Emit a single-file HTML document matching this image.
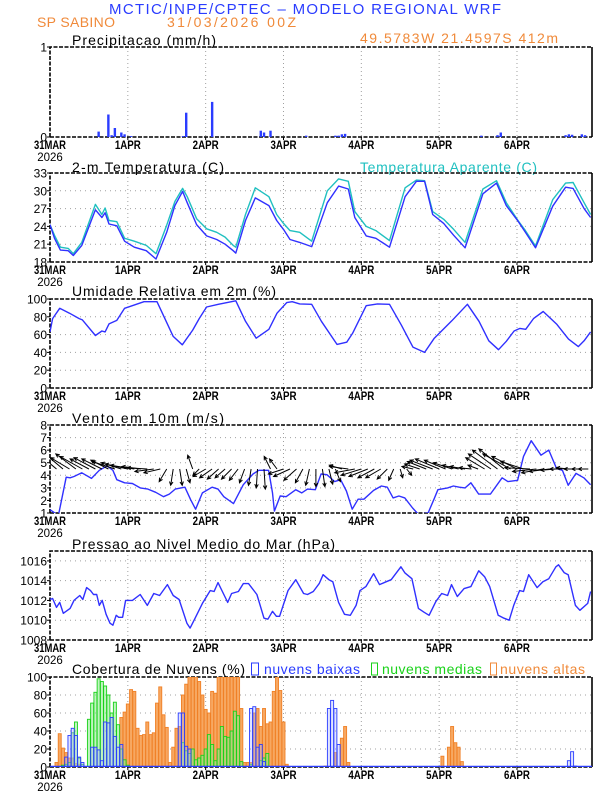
<!DOCTYPE html>
<html><head><meta charset="utf-8"><style>
html,body{margin:0;padding:0;background:#fff;}
svg{display:block;font-family:"Liberation Sans",sans-serif;}
</style></head><body>
<svg id="chart" xmlns="http://www.w3.org/2000/svg" width="612" height="792" viewBox="0 0 612 792">
<rect x="0" y="0" width="612" height="792" fill="#fff"/>
<text x="305" y="14" text-anchor="middle" font-size="15" fill="#2a3cff" textLength="392">MCTIC/INPE/CPTEC – MODELO REGIONAL WRF</text>
<text x="37" y="27" font-size="14" fill="#f08a3a" textLength="78">SP SABINO</text>
<text x="167" y="27" font-size="14" fill="#f08a3a" textLength="129">31/03/2026 00Z</text>
<text x="360" y="43" font-size="14" fill="#f08a3a" textLength="198">49.5783W 21.4597S 412m</text>
<text x="72" y="45" font-size="14" fill="#000" textLength="144">Precipitacao (mm/h)</text>
<text x="72" y="172" font-size="14" fill="#000" textLength="152">2-m Temperatura (C)</text>
<text x="360" y="172" font-size="14" fill="#20c0c0" textLength="177">Temperatura Aparente (C)</text>
<text x="72" y="296" font-size="14" fill="#000" textLength="204">Umidade Relativa em 2m (%)</text>
<text x="72" y="423" font-size="14" fill="#000" textLength="152">Vento em 10m (m/s)</text>
<text x="72" y="549" font-size="14" fill="#000" textLength="263">Pressao ao Nivel Medio do Mar (hPa)</text>
<text x="72" y="674" font-size="14" fill="#000" textLength="173">Cobertura de Nuvens (%)</text>
<rect x="251.5" y="663" width="7" height="12" fill="none" stroke="#2a3cff"/>
<text x="264" y="674" font-size="14" fill="#2a3cff" textLength="96">nuvens baixas</text>
<rect x="371.5" y="663" width="6" height="12" fill="none" stroke="#19d219"/>
<text x="382" y="674" font-size="14" fill="#19d219" textLength="100">nuvens medias</text>
<rect x="490.5" y="663" width="6" height="12" fill="none" stroke="#f08a3a"/>
<text x="500" y="674" font-size="14" fill="#f08a3a" textLength="85">nuvens altas</text>
<g id="plots"></g>
</svg>
<script>
// ---------- data ----------
const dayLabels = ["1APR","2APR","3APR","4APR","5APR","6APR"];
const precipHours = [15,18,19,20,22,23,25,41,42,50,65,66,68,79,88,89,90,91,133,138,139,159,160,161,164,165];
const precipValues = [0.06,0.25,0.02,0.10,0.05,0.03,0.01,0.01,0.27,0.39,0.07,0.05,0.07,0.015,0.015,0.015,0.03,0.035,0.015,0.02,0.05,0.02,0.03,0.025,0.03,0.02];

const tempHours = [0,1.4,3.2,5.6,7.2,9.8,14,16,17,18.2,20.6,23,26,29.7,32.7,36,38.5,40.9,42.3,45.2,48.3,51.4,54,56.5,57.3,60.3,63.3,67.5,69.9,72,74,77,80.7,85.5,89,92,94,97.5,100.5,104.7,109.5,113,115.5,118,121.4,124.5,128,133.5,137.7,140.7,144.3,146.6,149.7,155,159,161.3,164.7,166.7];
const tempValues = [24.3,22,20.0,19.9,19.1,20.8,26.8,25.5,26.3,24.4,24.1,21.5,20.5,19.9,18.5,23.0,27.5,29.9,28.0,24.3,22.4,21.8,21.0,19.9,19.5,25.0,28.8,27.5,25.0,23.5,21.8,21.3,20.6,28.0,30.8,30.3,25.5,22.4,22.0,20.5,29.0,31.6,31.6,26.0,24.5,22.5,20.4,29.5,31.3,27.5,24.9,23.0,20.4,27.4,30.6,30.4,27.0,25.5];
const apparentValues = [24.3,22.5,20.5,20.3,19.4,21.3,27.7,26.0,27.1,25.0,24.8,22.0,21.5,20.8,19.4,24.2,28.2,30.4,29.0,25.3,23.6,23.0,22.2,20.8,20.5,26.0,30.5,29.0,26.0,24.5,23.3,23.0,21.5,30.0,32.0,31.6,26.5,24.0,23.3,21.6,30.5,31.8,31.7,26.5,25.2,23.5,21.3,30.3,31.7,28.0,25.0,23.3,20.7,28.5,31.3,31.4,28.0,26.0];

const humHours = [0,0.8,3,6,9,10,14,16,17,18.2,20.6,23,26.6,29,33,38,40.8,44,46,48.3,51.9,57.3,60.3,63.6,67.5,70,73,74.7,77,80.7,83.7,88.5,91.5,93.3,97.5,101,104.7,108.3,111.9,115.5,118.5,123.9,128.7,132.3,135.3,138.3,140.7,143.1,144.9,146.7,149.1,152.1,156.3,159.9,162.9,164.7,166.7];
const humValues = [63,78,89.5,84,78,76.5,59,64,63,72,76,89.5,94,97,97,58,48.5,65,78,91,94,98,75,56,66,84,96,97,94.5,94,75,49,51.5,61.5,92.5,94.5,94,71,46,40,56,75.5,94,75,53,43,52.5,64,67,66,78,86,71.5,55,46.5,53,63];

const windHours = [0,2.6,5,6.2,7.4,9.8,12.8,15.2,17.6,19.4,20.6,23,25.4,27.8,30.2,32.6,35,36.8,38.6,41.6,43.4,44.9,47,50,51.8,53.6,56.6,59.6,62.6,64.4,67.4,68.6,69.2,71,72.8,75.8,77.6,79.4,81.8,83.6,85.4,87.8,89.6,91.4,93.2,95,96.8,99.8,102.2,104,105.8,107.6,109.4,111.8,113.6,116.6,118.4,119.6,122.6,124.4,126.2,128,129.8,132.2,135.8,139.4,141.2,144.2,146,148.4,151.4,153.8,156.2,158,159.8,162.2,164.6,166.7];
const windSpeed = [1.26,0.8,3.85,3.8,3.9,4.2,3.75,4.4,4.75,4.4,3.65,3.4,3.35,3.0,2.9,2.65,2.3,2.5,2.9,3.05,2.05,1.3,2.6,3.05,2.9,2.3,1.75,3.25,4.1,4.4,4.4,2.6,1.15,2.35,2.3,2.85,2.6,2.9,2.85,4.1,4.05,3.5,3.65,2.75,1.3,2.1,2.1,2.8,3.15,3.05,2.2,2.35,2.2,1.4,0.9,1.0,2.1,2.85,3.0,3.15,3.05,3.0,3.4,2.5,2.5,3.8,3.5,3.6,5.5,6.75,5.6,6.0,4.55,4.4,3.2,4.15,3.8,3.25];
const vectorHours = [0,2,4,6,8,10,12,14,16,18,20,22,24,26,28,30,32,34,36,38,40,42,44,46,48,50,52,54,56,58,60,62,64,66,68,70,72,74,76,78,80,82,84,86,88,90,92,94,96,98,100,102,104,106,108,110,112,114,116,118,120,122,124,126,128,130,132,134,136,138,140,142,144,146,148,150,152,154,156,158,160,162,164,166];
const windU = [-1.0,-1.2,-1.3,-1.5,-1.6,-1.8,-1.5,-1.7,-1.6,-1.4,-1.8,-1.6,-1.8,-1.9,-1.5,-1.6,-1.5,-1.3,-0.6,-0.2,0.2,0.3,-0.4,-0.5,-1.0,-1.0,-0.9,-0.8,-0.8,-0.7,-0.4,-0.2,-0.1,0.1,-0.5,-0.6,-1.2,-1.3,-1.0,-0.6,-0.3,0.0,0.2,0.3,0.4,-1.0,-1.5,-1.6,-1.6,-1.5,-1.3,-1.2,-0.8,-0.4,0.2,0.4,-0.9,-1.2,-1.5,-1.8,-1.9,-1.7,-1.5,-1.3,-1.2,-1.0,-0.8,-1.5,-1.8,-2.0,-2.0,-2.2,-2.0,-1.8,-2.0,-1.9,-1.7,-1.6,-1.2,-1.0,-1.0,-0.9,-0.8,-0.8];
const windV = [1.2,1.0,1.1,0.9,1.2,1.0,0.8,0.9,0.8,0.7,0.6,0.5,0.4,0.3,0.2,0.1,-0.2,-0.3,-1.0,-1.3,-1.3,-1.1,1.1,-0.5,-0.6,-0.7,-0.8,-0.7,-0.8,-0.9,-1.1,-1.3,-1.5,-1.6,1.0,0.8,-0.4,-0.6,-0.9,-1.1,-1.3,-1.4,-1.4,-1.2,-1.0,0.3,0.2,-0.3,-0.5,-0.6,-0.7,-0.7,-0.8,-0.9,-0.7,-0.5,0.2,0.4,0.6,0.7,0.8,0.7,0.5,0.3,0.2,0.1,0.3,0.9,1.2,1.5,1.6,1.2,1.0,0.6,0.1,-0.2,-0.3,-0.2,-0.1,0.0,0.1,0.0,0.0,0.0];

const presHours = [0,0.8,2,3,4.1,6.2,7.4,9.2,10.1,11.3,12.5,13.4,14.4,15.2,16.1,17.3,18.5,19.4,20.4,21.2,22.4,23.3,25.4,27.8,30,32,33.8,36.2,38,39.8,42.2,43.2,44.6,47,49.4,50.6,51.8,54.2,54.8,56,58.1,59.6,61.2,63.8,66,67.2,68.6,69.8,70.8,73.4,75.8,78.2,79.4,81.2,83,84.2,86,87.2,89,90.8,92.6,94.4,95.6,97.4,99.8,101.6,103.7,105.2,108.2,109.4,111.6,113.6,115.4,116.9,119,120.8,122.6,123.8,125.6,127.7,129.8,132.2,134,135.6,138.2,140,141.6,143,144.8,146,147.6,150.2,152,153.8,156,156.8,158.6,159.8,162,163.4,165.8,166.7];
const presValues = [1012.1,1012.2,1011.3,1011.8,1010.7,1011.2,1012.0,1012.5,1012.1,1013.3,1013.0,1012.6,1012.6,1011.5,1012.0,1010.6,1009.7,1009.5,1010.5,1010.3,1010.3,1012.0,1012.0,1012.6,1011.5,1012.7,1012.5,1013.6,1012.5,1012.1,1009.7,1009.2,1010.1,1011.7,1013.0,1012.9,1013.8,1012.2,1011.8,1012.7,1012.9,1013.7,1013.7,1012.6,1010.2,1010.1,1010.9,1010.4,1010.4,1013.0,1014.1,1012.7,1012.6,1012.9,1013.7,1014.6,1014.1,1013.9,1011.8,1010.6,1010.5,1011.5,1013.0,1013.4,1014.7,1013.6,1013.9,1014.1,1015.4,1014.8,1014.2,1011.2,1010.8,1010.5,1011.9,1012.7,1012.5,1013.6,1012.4,1013.2,1013.4,1015.0,1014.4,1013.4,1010.5,1010.2,1010.0,1011.5,1013.0,1012.9,1014.6,1013.3,1013.9,1014.2,1015.4,1015.6,1014.8,1014.6,1011.5,1011.0,1011.7,1012.9];

const highHours = [2,3,4,5,6,7,8,9,22,23,24,25,26,27,28,29,30,31,32,33,34,35,36,37,38,39,40,41,42,43,44,45,46,47,48,49,50,51,52,53,54,55,56,57,58,59,60,61,62,63,64,65,66,67,68,69,70,71,72,73,85,88,90,91,92,121,123,124,125,126,127];
const highValues = [5,37,21,16,10,10,4,3,55,61,70,86,84,43,35,36,50,36,38,71,89,58,44,5,22,43,45,80,92,100,100,100,95,80,64,60,84,82,100,100,100,100,100,100,100,65,5,5,5,60,65,45,65,48,50,84,100,85,50,3,1,16,32,45,5,12,22,45,27,22,6];
const midHours = [4,5,6,7,8,9,10,12,13,14,15,16,17,18,19,20,21,22,23,24,41,42,43,44,45,46,47,48,49,50,51,52,53,54,55,56,57,58,59,62,65,66,67];
const midValues = [2,3,5,38,50,10,3,53,71,83,98,95,90,80,60,72,47,20,8,2,27,18,15,20,8,10,13,20,36,25,7,20,45,34,33,40,62,57,6,3,7,10,15];
const lowHours = [5,6,7,8,9,10,13,14,15,16,17,18,19,20,21,22,40,41,42,43,62,63,64,65,66,86,87,88,89,160,161,162];
const lowValues = [11,35,43,35,11,5,22,22,19,7,50,49,55,34,22,25,60,60,23,20,65,67,22,25,6,65,74,65,25,7,17,1];

// ---------- layout ----------
const NS = "http://www.w3.org/2000/svg";
const X0 = 50, DAYPX = 77.83;
function xh(h){ return X0 + h*DAYPX/24; }
const X1 = 592;
function mk(parent, tag, attrs){ const e=document.createElementNS(NS,tag); for(const k in attrs) e.setAttribute(k, attrs[k]); parent.appendChild(e); return e; }
const root = document.getElementById('plots');

const panels = {
  precip:{top:47,bot:137,min:0,max:1,ticks:[0,1],grid:false},
  temp:{top:173,bot:262,min:18,max:33,ticks:[18,21,24,27,30,33],grid:true},
  hum:{top:299,bot:388,min:0,max:100,ticks:[0,20,40,60,80,100],grid:true},
  wind:{top:425,bot:513,min:1,max:8,ticks:[1,2,3,4,5,6,7,8],grid:true},
  pres:{top:551,bot:640,min:1008,max:1017,ticks:[1008,1010,1012,1014,1016],grid:true},
  cloud:{top:677,bot:767,min:0,max:100,ticks:[0,20,40,60,80,100],grid:true}
};
function yf(p){ return v => p.bot - (v-p.min)/(p.max-p.min)*(p.bot-p.top); }

let clipId = 0;
function drawAxes(name, p){
  const g = mk(root,'g',{});
  
  
  const y = yf(p);
  for(let d=1; d<=6; d++){
    const gl = mk(g,'line',{x1:xh(d*24),x2:xh(d*24),y1:p.top,y2:p.bot,stroke:'#a0a0a0','stroke-width':1,'stroke-dasharray':'1,3'});
    
    
  }
  p.ticks.forEach((t,i)=>{
    const yy = y(t);
    if(p.grid && t!==p.min && t!==p.max){
      const hl = mk(g,'line',{x1:X0,x2:X1,y1:yy,y2:yy,stroke:'#a0a0a0','stroke-width':1,'stroke-dasharray':'1,4'});
      
      
    }
    const tk = mk(g,'line',{x1:X0-3,x2:X0,y1:yy,y2:yy,stroke:'#000','stroke-width':1});
    
    
    const tl = mk(g,'text',{x:X0-3,y:yy+4.5,'text-anchor':'end','font-size':12,fill:'#000'});
    tl.textContent = String(t);
    
    
  });
  const b1 = mk(g,'path',{d:`M${X0},${p.bot}V${p.top}H${X1}M${X0},${p.bot}H${X1}`,fill:'none',stroke:'#000','stroke-width':1.6,'stroke-dasharray':'4,1.5'});
  
  
  const b2 = mk(g,'line',{x1:X1,x2:X1,y1:p.top,y2:p.bot,stroke:'#000','stroke-width':1.6});
  
  
  const l0 = mk(g,'text',{x:X0,y:p.bot+12,'text-anchor':'middle','font-size':11.5,'font-weight':'bold',fill:'#000',textLength:32,lengthAdjust:'spacingAndGlyphs'});
  l0.textContent = '31MAR';
  
  
  const l1 = mk(g,'text',{x:X0,y:p.bot+24,'text-anchor':'middle','font-size':11.5,fill:'#000'});
  l1.textContent = '2026';
  
  
  dayLabels.forEach((lab,i)=>{
    const xx = xh((i+1)*24);
    const tk = mk(g,'line',{x1:xx,x2:xx,y1:p.bot,y2:p.bot+3,stroke:'#000'});
    
    
    const t = mk(g,'text',{x:xx,y:p.bot+12,'text-anchor':'middle','font-size':11.5,'font-weight':'bold',fill:'#000',textLength:26,lengthAdjust:'spacingAndGlyphs'});
    t.textContent = lab;
    
    
  });
  clipId++;
  const cp = mk(root,'clipPath',{id:'clip'+clipId});
  mk(cp,'rect',{x:X0,y:p.top,width:X1-X0,height:p.bot-p.top});
  const data = mk(root,'g',{'clip-path':`url(#clip${clipId})`});
  
  
  return {g:data, y};
}
function line(gr, hours, vals, y, color, name){
  const pts = hours.map((h,i)=> xh(h).toFixed(1)+','+y(vals[i]).toFixed(1)).join(' ');
  const pl = mk(gr,'polyline',{points:pts,fill:'none',stroke:color,'stroke-width':1.4,'stroke-linejoin':'round'});
  
  
}
function bars(gr, hours, vals, y, w, fill, stroke, name){
  hours.forEach((h,i)=>{
    const yy = y(vals[i]); const y0 = y(0);
    const r = mk(gr,'rect',{x:(xh(h)-w/2).toFixed(2),y:yy.toFixed(2),width:w,height:Math.max(0.6,y0-yy).toFixed(2),fill:fill,stroke:stroke,'stroke-width':stroke==='none'?0:0.9});
    
    
  });
}

let a = drawAxes('precip', panels.precip);
bars(a.g, precipHours, precipValues, a.y, 2.4, '#2a3cff', 'none', 'precip-bar');
a = drawAxes('temp', panels.temp);
line(a.g, tempHours, apparentValues, a.y, '#20c0c0', 'apparent-temperature-line');
line(a.g, tempHours, tempValues, a.y, '#3030ff', 'temperature-line');
a = drawAxes('hum', panels.hum);
line(a.g, humHours, humValues, a.y, '#3030ff', 'humidity-line');
a = drawAxes('wind', panels.wind);
line(a.g, windHours, windSpeed, a.y, '#3030ff', 'wind-speed-line');
{
  const yb = a.y(4.5); const k = (panels.wind.bot-panels.wind.top)/7;
  vectorHours.forEach((h,i)=>{
    const x0 = xh(h), x1 = x0 + windU[i]*k, y1 = yb - windV[i]*k;
    const ang = Math.atan2(y1-yb, x1-x0);
    const hl = 4, sp = 0.45;
    const d = `M${x0.toFixed(1)},${yb.toFixed(1)}L${x1.toFixed(1)},${y1.toFixed(1)}M${(x1-hl*Math.cos(ang-sp)).toFixed(1)},${(y1-hl*Math.sin(ang-sp)).toFixed(1)}L${x1.toFixed(1)},${y1.toFixed(1)}L${(x1-hl*Math.cos(ang+sp)).toFixed(1)},${(y1-hl*Math.sin(ang+sp)).toFixed(1)}`;
    const ar = mk(a.g,'path',{d:d,fill:'none',stroke:'#000','stroke-width':1});
    
    
  });
}
a = drawAxes('pres', panels.pres);
line(a.g, presHours, presValues, a.y, '#3030ff', 'pressure-line');
a = drawAxes('cloud', panels.cloud);
bars(a.g, highHours, highValues, a.y, 3, '#f7a862', '#f08026', 'high-cloud-bar');
bars(a.g, midHours, midValues, a.y, 3, 'rgba(140,235,140,0.55)', '#19d219', 'mid-cloud-bar');
bars(a.g, lowHours, lowValues, a.y, 3, 'rgba(170,180,255,0.35)', '#2a3cff', 'low-cloud-bar');
{
  const bl = mk(a.g,'line',{x1:X0,x2:X1,y1:panels.cloud.bot-0.5,y2:panels.cloud.bot-0.5,stroke:'#2a3cff','stroke-width':1.5});
  
  
}
</script>
</body></html>
